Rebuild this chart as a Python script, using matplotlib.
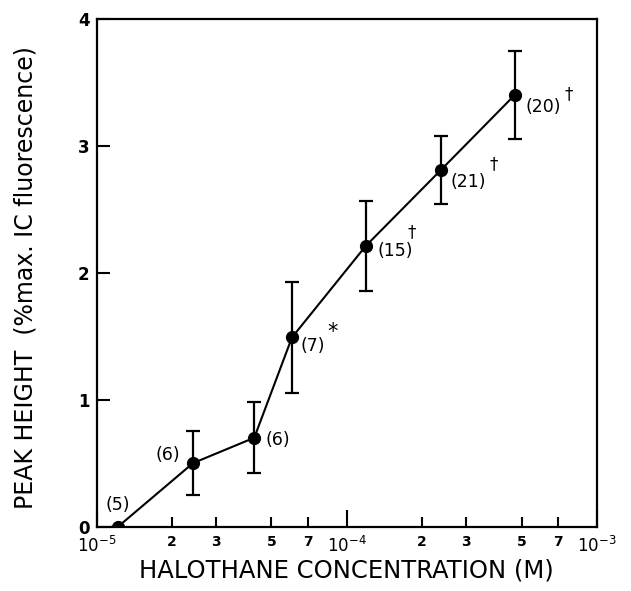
import matplotlib
matplotlib.use('Agg')
import numpy as np
import matplotlib.pyplot as plt
from matplotlib import ticker

# halothane concentration (M), peak height (% max IC fluorescence), SEM, n
conc = [1.22e-5, 2.43e-5, 4.27e-5, 6.04e-5, 1.19e-4, 2.38e-4, 4.69e-4]
peak = [0.0, 0.50, 0.70, 1.49, 2.21, 2.81, 3.40]
sem = [0.0, 0.25, 0.28, 0.435, 0.355, 0.265, 0.35]
n_obs = [5, 6, 6, 7, 15, 21, 20]
signif = ['', '', '', '*', '\u2020', '\u2020', '\u2020']

minor_labels = {2: '2', 3: '3', 5: '5', 7: '7'}

plt.rcParams['font.family'] = ['DejaVu Sans']

fig = plt.figure(figsize=(6.31, 5.91), dpi=100)
ax = fig.add_axes([0.153, 0.109, 0.793, 0.859])

ax.errorbar(conc, peak, yerr=sem, fmt='-o', color='black', lw=1.5,
            ms=8.5, elinewidth=1.6, capsize=5, capthick=1.6)

# label offsets in pixels: (n) label and significance mark
lab_off = [(0, 22), (-25, 8), (24, -2), (9, -9), (12, -5), (10, -12), (11, -12)]
lab_ha = ['center', 'center', 'center', 'left', 'left', 'left', 'left']
mark_off = [None, None, None, (41, 5), (46, 14), (53, 6), (54, 1)]
for i, x in enumerate(conc):
    ax.annotate('({})'.format(n_obs[i]), (x, peak[i]), xytext=lab_off[i],
                textcoords='offset pixels', ha=lab_ha[i], va='center', fontsize=12.5)
    if signif[i]:
        ax.annotate(signif[i], (x, peak[i]), xytext=mark_off[i],
                    textcoords='offset pixels', ha='center', va='center',
                    fontsize=15 if signif[i] == '*' else 12)

ax.set_xscale('log')
ax.set_xlim(1e-5, 1e-3)
ax.set_ylim(0, 4)

ax.xaxis.set_major_locator(ticker.LogLocator(base=10, numticks=5))
ax.xaxis.set_minor_locator(ticker.LogLocator(base=10, subs=[2, 3, 5, 7], numticks=10))
ax.xaxis.set_major_formatter(ticker.LogFormatterSciNotation())


def minor_fmt(v, pos):
    m = int(round(v / 10 ** np.floor(np.log10(v) + 1e-9)))
    return minor_labels.get(m, '')


ax.xaxis.set_minor_formatter(ticker.FuncFormatter(minor_fmt))
ax.set_yticks([0, 1, 2, 3, 4])

ax.tick_params(axis='x', which='major', direction='in', length=12, width=1.5,
               labelsize=12, pad=7)
ax.tick_params(axis='x', which='minor', direction='in', length=7, width=1.5,
               labelsize=10, pad=6)
ax.tick_params(axis='y', direction='in', length=9, width=1.5, labelsize=12, pad=5)
for lab in ax.get_xticklabels(minor=True) + ax.get_yticklabels():
    lab.set_fontweight('bold')

for sp in ax.spines.values():
    sp.set_linewidth(1.6)

ax.set_xlabel('HALOTHANE CONCENTRATION (M)', fontsize=17.5)
ax.xaxis.set_label_coords(0.5, -0.062)
ax.set_ylabel('PEAK HEIGHT  (%max. IC fluorescence)', fontsize=17)
ax.yaxis.set_label_coords(-0.117, 0.49)

fig.savefig('out.png', dpi=100)
